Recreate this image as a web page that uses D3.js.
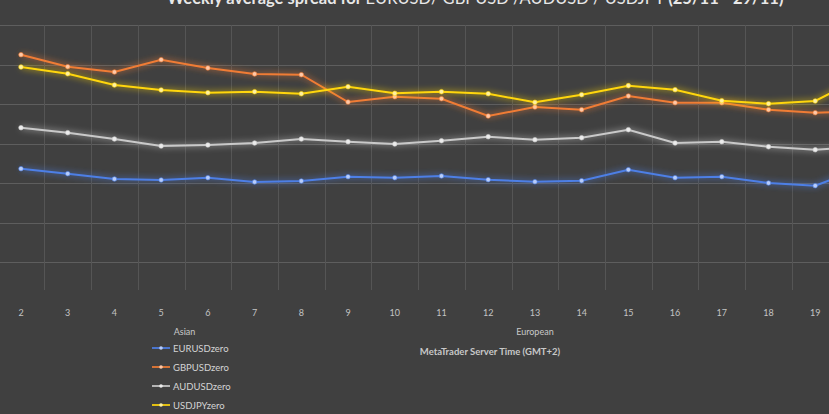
<!DOCTYPE html>
<html>
<head>
<meta charset="utf-8">
<script src="https://cdn.jsdelivr.net/npm/d3@7"></script>
<style>
html,body{margin:0;padding:0;background:#404040;overflow:hidden;}
svg{display:block;}
</style>
</head>
<body>
<div id="chart"></div>
<script>
// ---- data ----
const hours = [2,3,4,5,6,7,8,9,10,11,12,13,14,15,16,17,18,19,20];
const tickLabels = hours.map(String);
const seriesNames = ["EURUSDzero","GBPUSDzero","AUDUSDzero","USDJPYzero"];
const eurusd = [1.681,1.618,1.551,1.538,1.567,1.513,1.525,1.580,1.567,1.589,1.542,1.516,1.529,1.668,1.567,1.580,1.500,1.466,1.690];
const gbpusd = [3.124,2.972,2.905,3.061,2.956,2.880,2.871,2.525,2.592,2.567,2.348,2.462,2.428,2.601,2.516,2.516,2.428,2.390,2.405];
const audusd = [2.200,2.137,2.057,1.968,1.981,2.006,2.057,2.023,1.994,2.035,2.086,2.048,2.073,2.175,2.006,2.023,1.959,1.921,1.962];
const usdjpy = [2.968,2.883,2.740,2.677,2.643,2.656,2.630,2.719,2.635,2.656,2.630,2.521,2.618,2.732,2.681,2.542,2.504,2.538,2.842];
const yTicks = [0,0.5,1,1.5,2,2.5,3,3.5];
const titleBold1 = "Weekly average spread for ";
const titleRegular = "EURUSD/ GBPUSD /AUDUSD / USDJPY ";
const titleBold2 = "(25/11 - 29/11)";
const sessionLabels = [{text:"Asian", hour:5.5}, {text:"European", hour:13}];
const axisTitle = "MetaTrader Server Time (GMT+2)";

const colors = ["#4d7fe6","#f07c35","#c9c9c9","#ffd60a"];
const markerFill = ["#b8cdfa","#ffc8a6","#ececec","#fff1a0"];
const allSeries = [eurusd, gbpusd, audusd, usdjpy];

// ---- layout ----
const W = 829, H = 414;
const step = 46.72;
const plotLeft = 21 - step/2;
const plotTop = 25, plotBottom = 301.5;

const svg = d3.select("#chart").append("svg").attr("width", W).attr("height", H)
  .style("font-family","Lato, 'Open Sans', sans-serif");
svg.append("rect").attr("width",W).attr("height",H).attr("fill","#404040");

const x = d3.scaleBand().domain(hours).range([plotLeft, plotLeft + step*hours.length]).paddingInner(0).paddingOuter(0);
const cx = h => x(h) + x.bandwidth()/2;
const xPos = d3.scaleLinear().domain([hours[0], hours[1]]).range([cx(hours[0]), cx(hours[1])]);
const y = d3.scaleLinear().domain([0,3.5]).range([plotBottom, plotTop]);

// defs: glow filters
const defs = svg.append("defs");
colors.forEach((c,i)=>{
  const f = defs.append("filter").attr("id","glow"+i).attr("x","-10%").attr("y","-50%").attr("width","120%").attr("height","200%");
  f.append("feGaussianBlur").attr("in","SourceGraphic").attr("stdDeviation",3).attr("result","b");
  const m = f.append("feMerge");
  m.append("feMergeNode").attr("in","b");
  m.append("feMergeNode").attr("in","SourceGraphic");
});

// gridlines
const grid = svg.append("g");
grid.selectAll("line.h").data(yTicks.filter(t=>t>0)).enter().append("line")
  .attr("x1",0).attr("x2",W).attr("y1",d=>Math.round(y(d))+0.5).attr("y2",d=>Math.round(y(d))+0.5)
  .attr("stroke","#5e5e5e").attr("stroke-width",1);
grid.selectAll("line.v").data(hours.slice(1)).enter().append("line")
  .attr("x1",d=>Math.round(x(d))+0.5).attr("x2",d=>Math.round(x(d))+0.5)
  .attr("y1",plotTop).attr("y2",290)
  .attr("stroke","#555555").attr("stroke-width",1);

// x tick labels (only those inside the visible frame)
svg.append("g").selectAll("text").data(hours.filter(h=>cx(h) < W - 8)).enter().append("text")
  .attr("x",d=>cx(d)).attr("y",316).attr("text-anchor","middle")
  .attr("font-size",9).attr("fill","#c4c4c4").text(d=>tickLabels[hours.indexOf(d)]);

// session labels
svg.append("g").selectAll("text").data(sessionLabels).enter().append("text")
  .attr("x",d=>xPos(d.hour)).attr("y",335).attr("text-anchor","middle")
  .attr("font-size",9).attr("fill","#c8c8c8").text(d=>d.text);

svg.append("text").attr("x",490).attr("y",355).attr("text-anchor","middle")
  .attr("font-size",9.5).attr("font-weight","bold").attr("fill","#c8c8c8").text(axisTitle);

// lines
const line = d3.line().x((d,i)=>cx(hours[i])).y(d=>y(d));
allSeries.forEach((s,i)=>{
  const g = svg.append("g");
  g.append("path").datum(s).attr("d",line).attr("fill","none")
    .attr("stroke",colors[i]).attr("stroke-width",2).attr("filter","url(#glow"+i+")");
  g.selectAll("circle").data(s).enter().append("circle")
    .attr("cx",(d,j)=>cx(hours[j])).attr("cy",d=>y(d)).attr("r",2.3)
    .attr("fill",markerFill[i]).attr("stroke",colors[i]).attr("stroke-width",0.6);
});

// legend
const legend = svg.append("g");
seriesNames.forEach((n,i)=>{
  const ly = 348 + i*19;
  const g = legend.append("g");
  g.append("line").attr("x1",152).attr("x2",170).attr("y1",ly).attr("y2",ly)
    .attr("stroke",colors[i]).attr("stroke-width",2).attr("opacity",0.85);
  g.append("circle").attr("cx",161).attr("cy",ly).attr("r",1.8).attr("fill",markerFill[i]);
  g.append("text").attr("x",173).attr("y",ly+3.5).attr("font-size",9.5).attr("fill","#d4d4d4").text(n);
});

// title (partly cut off at top, as in the reference)
const t = svg.append("text").attr("x",167).attr("y",4).attr("font-size",16.5).attr("fill","#e8e8e8");
t.append("tspan").attr("font-weight","bold").text(titleBold1);
t.append("tspan").attr("font-weight","normal").text(titleRegular);
t.append("tspan").attr("font-weight","bold").text(titleBold2);
</script>
</body>
</html>
